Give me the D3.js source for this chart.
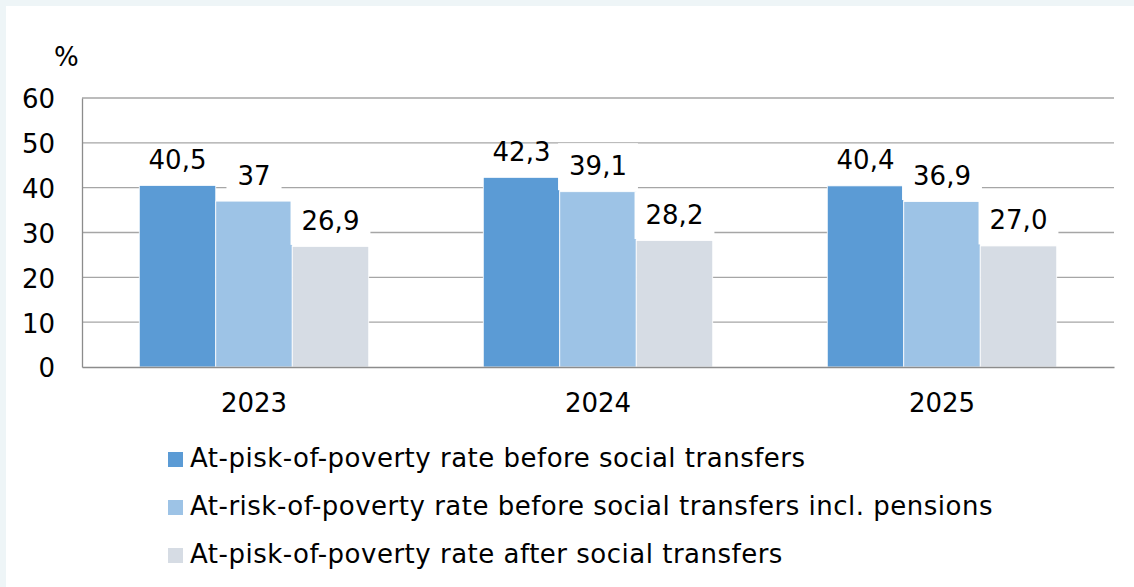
<!DOCTYPE html>
<html><head><meta charset="utf-8">
<script src="https://cdn.jsdelivr.net/npm/d3@7"></script>
<style>
html,body{margin:0;padding:0;background:#eef5f7;}
svg{display:block;font-family:"DejaVu Sans",Verdana,sans-serif;}
</style></head><body>
<svg id="c" width="1134" height="587"></svg>
<script>
const years = ["2023","2024","2025"];
const seriesNames = [
  "At-pisk-of-poverty rate before social transfers",
  "At-risk-of-poverty rate before social transfers incl. pensions",
  "At-pisk-of-poverty rate after social transfers"
];
const beforeTransfers = [40.5, 42.3, 40.4];
const beforeInclPensions = [37, 39.1, 36.9];
const afterTransfers = [26.9, 28.2, 27.0];
const valueLabels = [["40,5","42,3","40,4"],["37","39,1","36,9"],["26,9","28,2","27,0"]];
const yTicks = [0,10,20,30,40,50,60];
const colors = ["#5b9bd5","#9dc3e6","#d6dce4"];

(function(){
const FS = 26;
const svg = d3.select("#c");
svg.append("rect").attr("x",6).attr("y",6).attr("width",1128).attr("height",581).attr("fill","#fff");

const pl=82, pr=1114, pt=98, pb=367;
const x = d3.scaleBand().domain(years).range([pl,pr]).paddingInner(0).paddingOuter(0);
const series = [beforeTransfers, beforeInclPensions, afterTransfers];
const xs = d3.scaleBand().domain([0,1,2]).range([0, x.bandwidth()*0.667]);
const off = x.bandwidth()*(1-0.667)/2;
const y = d3.scaleLinear().domain([0,60]).range([pb,pt]);

svg.append("g").selectAll("line").data(yTicks.filter(d=>d>0)).join("line")
  .attr("x1",pl).attr("x2",pr).attr("y1",d=>y(d)).attr("y2",d=>y(d))
  .attr("stroke","#a6a6a6").attr("stroke-width",1.3);

const ya = d3.axisLeft(y).tickValues(yTicks).tickSize(0).tickPadding(27).tickFormat(d3.format("d"));
const gy = svg.append("g").attr("transform",`translate(${pl},0)`).call(ya);
gy.select(".domain").attr("stroke","#8c8c8c").attr("stroke-width",1.3);
gy.selectAll("text").attr("font-size",FS).attr("fill","#000").attr("font-family","DejaVu Sans").attr("dy","0.38em");

series.forEach((s,i)=>{
  svg.append("g").selectAll("rect").data(s).join("rect")
    .attr("x",(d,j)=>x(years[j])+off+xs(i))
    .attr("y",d=>y(d)).attr("width",xs.bandwidth()).attr("height",d=>y(0)-y(d))
    .attr("fill",colors[i]).attr("stroke","#fff").attr("stroke-width",0.8);
});

const xa = d3.axisBottom(x).tickSize(0).tickPadding(26.5);
const gx = svg.append("g").attr("transform",`translate(0,${pb})`).call(xa);
gx.select(".domain").attr("stroke","#8c8c8c").attr("stroke-width",1.6);
gx.selectAll("text").attr("font-size",FS).attr("fill","#000").attr("font-family","DejaVu Sans");

series.forEach((s,i)=>{
  s.forEach((v,j)=>{
    const cx = x(years[j])+off+xs(i)+xs.bandwidth()/2;
    const base = y(v)-16.5;
    const g = svg.append("g");
    const t = g.append("text").attr("x",cx).attr("y",base).attr("text-anchor","middle")
      .attr("font-size",FS).attr("fill","#000").text(valueLabels[i][j]);
    if(i>0){
      const bb = t.node().getBBox();
      g.insert("rect","text").attr("x",bb.x-11).attr("y",base-32).attr("width",bb.width+22).attr("height",47).attr("fill","#fff");
    }
  });
});

svg.append("text").attr("x",54).attr("y",66).attr("font-size",FS).text("%");

const lg = svg.append("g");
seriesNames.forEach((n,i)=>{
  const by = 467 + i*48;
  lg.append("rect").attr("x",168).attr("y",by-15).attr("width",15).attr("height",15).attr("fill",colors[i]);
  lg.append("text").attr("x",190).attr("y",by).attr("font-size",FS).attr("letter-spacing",0.5).text(n);
});
})();
</script></body></html>
